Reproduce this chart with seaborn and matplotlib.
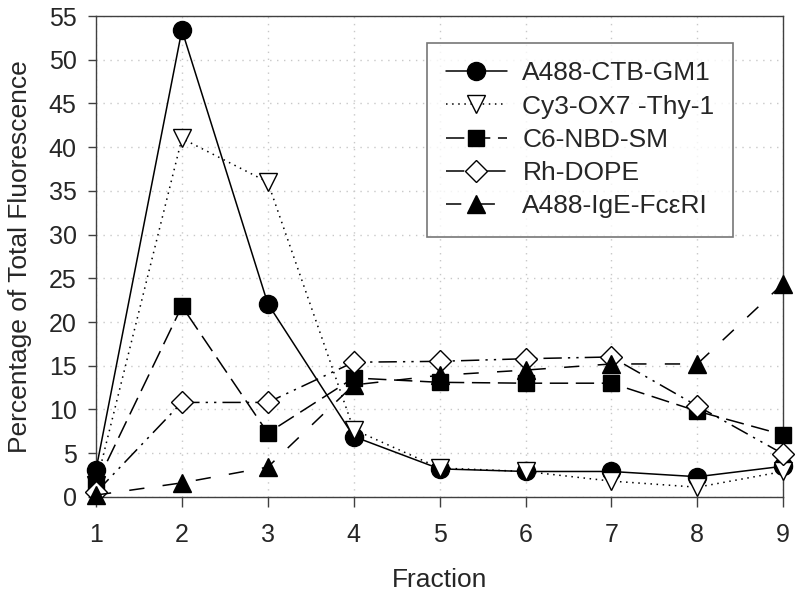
import numpy as np
import matplotlib
matplotlib.use("Agg")
import matplotlib.pyplot as plt
import pandas as pd
import seaborn as sns

fractions = [1, 2, 3, 4, 5, 6, 7, 8, 9]
ctb_gm1 = [3.1, 53.4, 22.1, 6.9, 3.2, 2.9, 2.9, 2.3, 3.5]
ox7_thy1 = [1.4, 41.0, 36.0, 7.7, 3.3, 2.9, 1.8, 1.1, 2.9]
nbd_sm = [1.4, 21.8, 7.3, 13.6, 13.1, 13.0, 13.0, 9.8, 7.1]
rh_dope = [0.5, 10.8, 10.8, 15.4, 15.5, 15.8, 16.0, 10.4, 4.9]
ige_fceri = [0.2, 1.6, 3.4, 12.8, 13.9, 14.5, 15.2, 15.2, 24.4]

labels = ["A488-CTB-GM1", "Cy3-OX7 -Thy-1", "C6-NBD-SM", "Rh-DOPE", "A488-IgE-Fc\u03b5RI"]
series = [ctb_gm1, ox7_thy1, nbd_sm, rh_dope, ige_fceri]

# long-form table for seaborn
df = pd.DataFrame({
    "Fraction": fractions * len(series),
    "Percent": np.concatenate(series),
    "probe": np.repeat(labels, len(fractions)),
})

sns.set_style("white")
plt.rcParams["font.family"] = ["Liberation Sans", "DejaVu Sans"]

# marker, face colour, size, dash pattern
styles = {
    labels[0]: ("o", "black", 13, ""),
    labels[1]: ("v", "white", 13, (1, 3)),
    labels[2]: ("s", "black", 11.5, (12, 5)),
    labels[3]: ("D", "white", 11, (12, 4, 1.5, 4, 1.5, 4)),
    labels[4]: ("^", "black", 13, (10, 12)),
}

fig, ax = plt.subplots(figsize=(8, 5.95), dpi=100)
fig.subplots_adjust(left=0.12, right=0.979, top=0.973, bottom=0.165)

for lab in labels:
    m, fc, ms, d = styles[lab]
    sub = df[df["probe"] == lab]
    kw = dict(linestyle="-") if d == "" else dict(dashes=d)
    sns.lineplot(data=sub, x="Fraction", y="Percent", ax=ax, color="black",
                 marker=m, markersize=ms, markerfacecolor=fc,
                 markeredgecolor="black", markeredgewidth=1.0,
                 linewidth=1.1, label=lab, clip_on=False, zorder=3, **kw)

ax.set_xlim(1, 9)
ax.set_ylim(0, 55)
ax.set_xticks(fractions)
ax.set_yticks(np.arange(0, 56, 5))
ax.grid(True, color="#c8c8c8", linestyle=(0, (1, 4)), linewidth=1.0)
ax.set_axisbelow(True)
for s in ax.spines.values():
    s.set_color("#404040")
    s.set_linewidth(1.0)
ax.tick_params(axis="both", direction="out", width=1.0, color="#404040",
               labelsize=18, bottom=True, left=True)
ax.tick_params(axis="y", length=6, pad=8)
ax.tick_params(axis="x", length=7, pad=12)
ax.set_xlabel("Fraction", fontsize=19, labelpad=15)
ax.set_ylabel("Percentage of Total Fluorescence", fontsize=19, labelpad=12)

leg = ax.legend(loc="upper right", bbox_to_anchor=(0.927, 0.944), fontsize=19,
                frameon=True, fancybox=False, edgecolor="#555555",
                handlelength=2.3, labelspacing=0.35, borderpad=0.7,
                handletextpad=0.6, borderaxespad=0, numpoints=1)
leg.get_frame().set_linewidth(1.2)

fig.savefig("out.png", dpi=100)
